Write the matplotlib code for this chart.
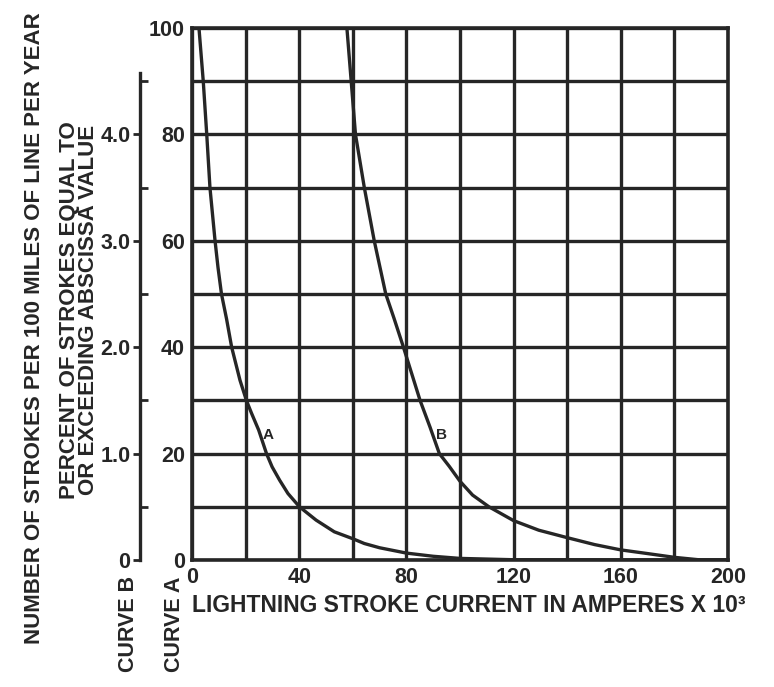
import numpy as np
import matplotlib
matplotlib.use("Agg")
import matplotlib.pyplot as plt

# curve A: percent of strokes equal to or exceeding the current
curva_a_x = [2.6, 4.2, 5.5, 6.7, 8.6, 9.7, 11.0, 12.9, 14.8, 17.9, 20.3, 22.2,
             24.9, 27.8, 29.9, 32.7, 35.8, 40.1, 46.3, 53.1, 60.0, 64.3, 70.0,
             80.0, 90.0, 100.0, 120.0, 200.0]
curva_a_y = [100, 90, 80, 70, 60, 55, 50, 45.3, 40, 33.8, 30, 27.6,
             24.4, 20, 17.5, 15.0, 12.5, 10, 7.5, 5.3, 4.0, 3.1, 2.3,
             1.3, 0.7, 0.3, 0.05, 0.0]

# curve B: strokes per 100 miles of line per year
curva_b_x = [57.8, 59.4, 61.0, 64.3, 68.0, 72.3, 75.4, 78.9, 82.0, 85.1, 88.8,
             92.3, 96.0, 100.0, 104.7, 110.8, 120.0, 129.4, 140.0, 150.2,
             160.0, 170.1, 180.0, 190.0, 200.0]
curva_b_y = [5.0, 4.5, 4.0, 3.5, 3.0, 2.5, 2.27, 2.0, 1.75, 1.5, 1.25,
             1.0, 0.88, 0.74, 0.61, 0.5, 0.37, 0.28, 0.21, 0.145,
             0.095, 0.06, 0.025, 0.0, 0.0]

x_ticks = [0, 40, 80, 120, 160, 200]
y_ticks_a = [0, 20, 40, 60, 80, 100]
y_ticks_b = [0, 1, 2, 3, 4]
y_labels_b = ["0", "1.0", "2.0", "3.0", "4.0"]

cor = "#262626"
fs = 15.5
fonte = {"family": "Liberation Sans", "weight": "bold"}
plt.rcParams["font.family"] = ["Liberation Sans", "DejaVu Sans"]

W, H = 774, 687
fig = plt.figure(figsize=(W / 100, H / 100), dpi=100)
fig.patch.set_facecolor("white")
ax = fig.add_axes([192 / W, 127 / H, 536 / W, 532 / H])

ax.set_xlim(0, 200)
ax.set_ylim(0, 100)
ax.set_xticks(x_ticks)
ax.set_xticks(np.arange(0, 201, 20), minor=True)
ax.set_yticks(y_ticks_a)
ax.set_yticks(np.arange(0, 101, 10), minor=True)
ax.set_xticklabels([str(v) for v in x_ticks], fontsize=fs, color=cor, **fonte)
ax.set_yticklabels([str(v) for v in y_ticks_a], fontsize=fs, color=cor, **fonte)
ax.tick_params(which="both", length=0)
ax.tick_params(axis="x", pad=5)
ax.tick_params(axis="y", pad=5)
ax.grid(which="both", color=cor, lw=2.4)
ax.set_axisbelow(True)
for s in ax.spines.values():
    s.set_linewidth(2.6)
    s.set_color(cor)

ax.plot(curva_a_x, curva_a_y, color=cor, lw=2.4, solid_joinstyle="round")
ax.text(28.5, 23.5, "A", fontsize=11, color=cor, ha="center", va="center", **fonte)
ax.text(93.0, 23.5, "B", fontsize=11, color=cor, ha="center", va="center", **fonte)

# second ordinate for curve B
ax2 = ax.twinx()
ax2.set_ylim(0, 5)
ax2.plot(curva_b_x, curva_b_y, color=cor, lw=2.4, solid_joinstyle="round")
for lado in ["right", "top", "bottom"]:
    ax2.spines[lado].set_visible(False)
ax2.spines["left"].set_position(("axes", -52 / 536))
ax2.spines["left"].set_bounds(0, 4.58)
ax2.spines["left"].set_linewidth(2.4)
ax2.spines["left"].set_color(cor)
ax2.yaxis.set_ticks_position("left")
ax2.set_yticks(y_ticks_b)
ax2.set_yticks(np.arange(0.5, 4.6, 1.0), minor=True)
ax2.set_yticklabels(y_labels_b, fontsize=fs, color=cor, **fonte)
ax2.tick_params(axis="y", which="major", direction="out", length=5, width=2, color=cor, pad=2)
ax2.tick_params(axis="y", which="minor", direction="in", length=6, width=2, color=cor)

fig.text(35 / W, 1 - 328 / H, "NUMBER OF STROKES PER 100 MILES OF LINE PER YEAR",
         rotation=90, ha="center", va="center", fontsize=16, color=cor, **fonte)
fig.text(79 / W, 1 - 310 / H, "PERCENT OF STROKES EQUAL TO\nOR EXCEEDING ABSCISSA VALUE",
         rotation=90, ha="center", va="center", fontsize=16, color=cor,
         linespacing=0.85, multialignment="center", **fonte)
fig.text(128 / W, 1 - 672 / H, "CURVE B", rotation=90, ha="center", va="bottom",
         fontsize=fs, color=cor, **fonte)
fig.text(175 / W, 1 - 672 / H, "CURVE A", rotation=90, ha="center", va="bottom",
         fontsize=fs, color=cor, **fonte)
fig.text(469 / W, 1 - 606 / H, "LIGHTNING STROKE CURRENT IN AMPERES X 10³",
         ha="center", va="center", fontsize=16.5, color=cor, **fonte)

fig.savefig("out.png", dpi=100, facecolor="white")
